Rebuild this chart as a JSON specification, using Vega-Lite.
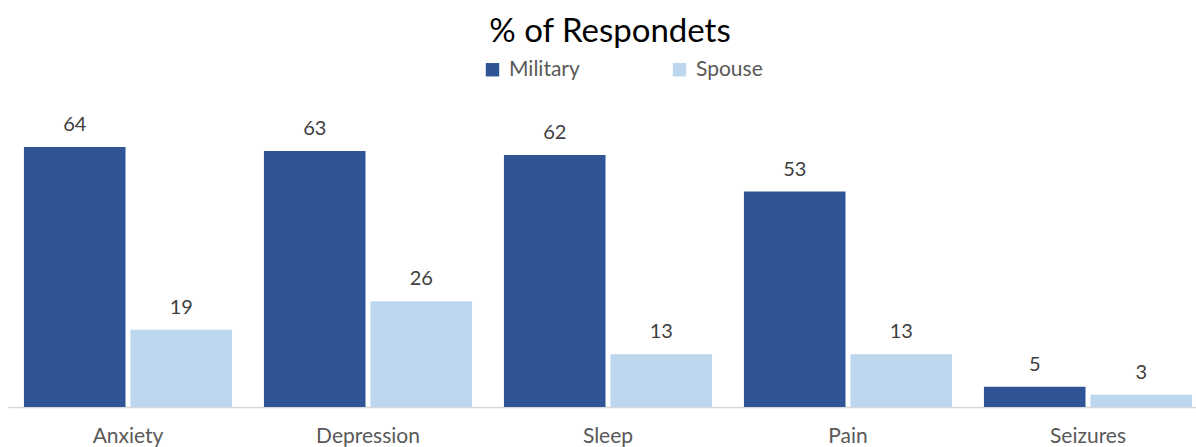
{
  "$schema": "https://vega.github.io/schema/vega-lite/v6.json",
  "autosize": {"type": "none"},
  "width": 1188,
  "height": 317,
  "padding": {"left": 8, "top": 90, "right": 0, "bottom": 40},
  "background": "white",
  "config": {"view": {"stroke": null}, "font": "Lato"},
  "title": {"text": "% of Respondets", "fontSize": 33, "font": "Lato", "fontWeight": "normal", "color": "#000000", "anchor": "middle", "offset": 46, "dy": 36, "dx": 8},
  "data": {"values": [
    {"cat": "Anxiety", "group": "Military", "value": 64},
    {"cat": "Anxiety", "group": "Spouse", "value": 19},
    {"cat": "Depression", "group": "Military", "value": 63},
    {"cat": "Depression", "group": "Spouse", "value": 26},
    {"cat": "Sleep", "group": "Military", "value": 62},
    {"cat": "Sleep", "group": "Spouse", "value": 13},
    {"cat": "Pain", "group": "Military", "value": 53},
    {"cat": "Pain", "group": "Spouse", "value": 13},
    {"cat": "Seizures", "group": "Military", "value": 5},
    {"cat": "Seizures", "group": "Spouse", "value": 3}
  ]},
  "encoding": {
    "x": {"field": "cat", "type": "nominal", "sort": ["Anxiety", "Depression", "Sleep", "Pain", "Seizures"],
      "scale": {"range": [0, 1200], "paddingInner": 0, "paddingOuter": 0},
      "axis": {"title": null, "labelAngle": 0, "labelFontSize": 21, "labelColor": "#595959", "labelFont": "Lato", "ticks": false, "domainColor": "#d9d9d9", "domainWidth": 1.5, "labelPadding": 18}},
    "xOffset": {"field": "group", "type": "nominal", "scale": {"paddingInner": 0.0467, "paddingOuter": 0.1495}},
    "y": {"field": "value", "type": "quantitative", "scale": {"domain": [0, 78]}, "axis": null}
  },
  "layer": [
    {"mark": {"type": "bar"},
     "encoding": {"color": {"field": "group", "type": "nominal",
        "scale": {"domain": ["Military", "Spouse"], "range": ["#2F5597", "#BDD7EE"]},
        "legend": {"title": null, "orient": "none", "legendX": 474, "legendY": -31, "direction": "horizontal", "columns": 2, "columnPadding": 89, "symbolType": "square", "symbolSize": 180, "symbolStrokeWidth": 0, "labelFontSize": 21, "labelColor": "#595959", "labelFont": "Lato", "labelOffset": 6}}}},
    {"mark": {"type": "text", "fontSize": 20, "color": "#404040", "baseline": "alphabetic", "dy": -16, "font": "Lato"},
     "encoding": {"text": {"field": "value", "type": "quantitative"}}}
  ]
}
